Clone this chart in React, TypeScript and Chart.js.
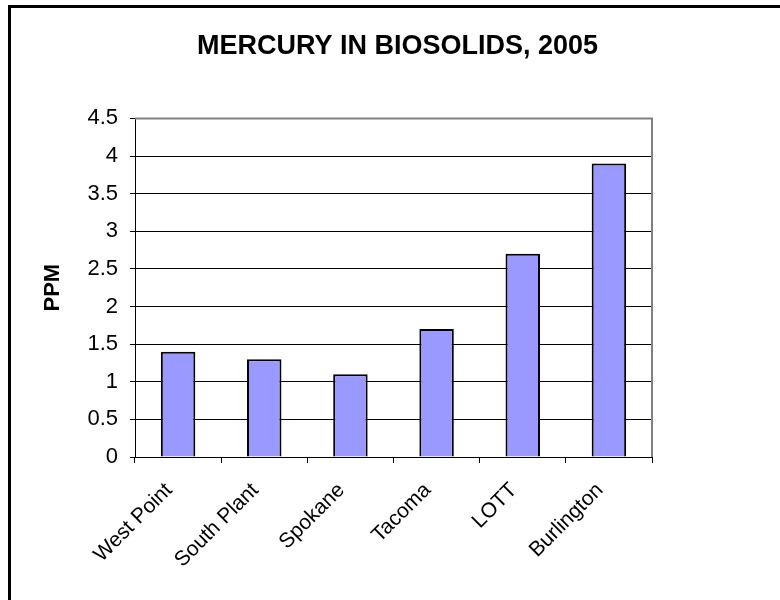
import React, { useEffect, useRef } from "react";
import { Chart, registerables } from "chart.js";

Chart.register(...registerables);

const categories = ["West Point", "South Plant", "Spokane", "Tacoma", "LOTT", "Burlington"];
const ppmValues = [1.4, 1.3, 1.1, 1.7, 2.7, 3.9];
const chartTitle = "MERCURY IN BIOSOLIDS, 2005";
const yAxisTitle = "PPM";
const yMin = 0;
const yMax = 4.5;
const yStep = 0.5;

const FONT = "Arial, 'Liberation Sans', sans-serif";
const PAD_LEFT = 15;
const PLOT_LEFT = 135;
const PLOT_RIGHT = 652;
const PLOT_BOTTOM = 457;

const framePlugin = {
  id: "frame",
  beforeDraw(chart: any) {
    const ctx = chart.ctx;
    ctx.save();
    ctx.fillStyle = "#ffffff";
    ctx.fillRect(0, 0, chart.width, chart.height);
    ctx.strokeStyle = "#000000";
    ctx.lineWidth = 3;
    ctx.strokeRect(9.5, 6.5, chart.width + 20, chart.height + 20);
    ctx.restore();
  },
  beforeDatasetsDraw(chart: any) {
    const { ctx, chartArea } = chart;
    ctx.save();
    ctx.strokeStyle = "#808080";
    ctx.lineWidth = 2;
    ctx.beginPath();
    ctx.moveTo(chartArea.left, chartArea.top);
    ctx.lineTo(chartArea.right, chartArea.top);
    ctx.lineTo(chartArea.right, chartArea.bottom);
    ctx.stroke();
    ctx.restore();
  },
};

export default function App() {
  const ref = useRef<HTMLCanvasElement | null>(null);
  useEffect(() => {
    if (!ref.current) return;
    const chart = new Chart(ref.current, {
      type: "bar",
      data: {
        labels: categories,
        datasets: [
          {
            data: ppmValues,
            backgroundColor: "#9999FF",
            borderColor: "#000000",
            borderWidth: 2,
            categoryPercentage: 1,
            barPercentage: 0.4,
            yAxisID: "y",
          },
        ],
      },
      options: {
        animation: false,
        responsive: false,
        devicePixelRatio: 1,
        layout: { padding: { left: PAD_LEFT, right: 0, top: 0, bottom: 0 } },
        plugins: {
          legend: { display: false },
          tooltip: { enabled: false },
          title: {
            display: true,
            text: chartTitle,
            color: "#000000",
            font: { family: FONT, size: 27, weight: "bold" },
            padding: { top: 30, bottom: 56 },
          },
        },
        scales: {
          x: {
            offset: true,
            border: { display: true, color: "#000000", width: 1 },
            grid: { offset: true, drawOnChartArea: false, drawTicks: true, tickLength: 6, color: "#000000" },
            ticks: {
              color: "#000000",
              font: { family: FONT, size: 21 },
              maxRotation: 45,
              minRotation: 45,
              autoSkip: false,
              padding: 15,
              labelOffset: -9,
            },
            afterFit(axis: any) {
              axis.height = 600 - PLOT_BOTTOM;
            },
          },
          y: {
            min: yMin,
            max: yMax,
            border: { display: true, color: "#000000", width: 1 },
            grid: { color: "#000000", lineWidth: 1, tickLength: 5 },
            ticks: {
              stepSize: yStep,
              color: "#000000",
              font: { family: FONT, size: 22 },
              padding: 12,
              callback: (v: any) => String(Number(v)),
            },
            title: {
              display: true,
              text: yAxisTitle,
              color: "#000000",
              font: { family: FONT, size: 22, weight: "bold" },
              padding: { top: 25, bottom: 0 },
            },
            afterFit(axis: any) {
              axis.width = PLOT_LEFT - PAD_LEFT;
            },
          },
          yRight: {
            position: "right",
            display: true,
            border: { display: false },
            grid: { display: false, drawTicks: false },
            ticks: { display: false },
            afterFit(axis: any) {
              axis.width = 780 - PLOT_RIGHT;
            },
          },
        },
      },
      plugins: [framePlugin],
    } as any);
    return () => chart.destroy();
  }, []);

  return (
    <div style={{ position: "fixed", left: 0, top: 0, width: 780, height: 600 }}>
      <canvas ref={ref} width={780} height={600} style={{ width: 780, height: 600, display: "block" }} />
    </div>
  );
}
